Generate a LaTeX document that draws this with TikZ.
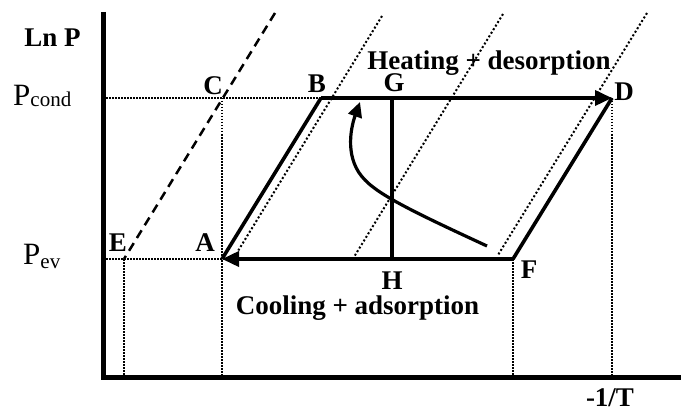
\documentclass[tikz,border=0pt]{standalone}
\usepackage{fontspec}
\setmainfont{Liberation Serif}
\usetikzlibrary{arrows.meta}
\begin{document}
\begin{tikzpicture}[x=1pt,y=-1pt,
  lbl/.style={font=\fontsize{27}{27}\selectfont\bfseries, inner sep=0pt, anchor=base},
  cyc/.style={line width=3.6pt, line join=miter},
  tipbig/.style={-{Triangle[length=17pt,width=15pt]}},
  tipsmall/.style={-{Triangle[length=15pt,width=14pt]}},
  guide/.style={line width=1.5pt, dash pattern=on 1.5pt off 1.5pt},
  iso/.style={line width=2pt, dash pattern=on 2pt off 2.2pt},
  sat/.style={line width=2.5pt, dash pattern=on 9pt off 6pt},
  axisline/.style={line width=5pt, line join=miter}]
\useasboundingbox (0,0) rectangle (681,412);

% key points
\coordinate (A) at (222,259);
\coordinate (B) at (321,98);
\coordinate (C) at (222,98);
\coordinate (D) at (612,98);
\coordinate (E) at (124,259);
\coordinate (F) at (513,259);
\coordinate (G) at (392,98);
\coordinate (H) at (392,259);

% axes
\coordinate (O) at (103,377);
\coordinate (Ytop) at (103,12);
\coordinate (Xend) at (681,377);
\coordinate (Ycond) at (106,98);
\coordinate (Yev) at (106,259);
\coordinate (xE) at (124,377);
\coordinate (xC) at (222,377);
\coordinate (xF) at (513,377);
\coordinate (xD) at (612,377);

% isostere ends
\coordinate (s1) at (275,13);
\coordinate (i1a) at (382,16);
\coordinate (i1b) at (238,251);
\coordinate (i2a) at (503,14);
\coordinate (i2b) at (354,257);
\coordinate (i3a) at (647,13);
\coordinate (i3b) at (498,255);

% curve ends
\coordinate (k0) at (487,246);
\coordinate (k1) at (360,102);

% guide lines
\draw[guide] (Ycond) -- (B);
\draw[guide] (Yev) -- (A);
\draw[guide] (C) -- (xC);
\draw[guide] (E) -- (xE);
\draw[guide] (F) -- (xF);
\draw[guide] (D) -- (xD);

% isosteres
\draw[iso] (i1a) -- (i1b);
\draw[iso] (i2a) -- (i2b);
\draw[iso] (i3a) -- (i3b);
\draw[sat] (s1) -- (E);

% axes
\draw[axisline] (Ytop) -- (O) -- (Xend);

% cycle
\draw[cyc] (A) -- (B);
\draw[cyc, tipbig] (B) -- (D);
\draw[cyc] (D) -- (F);
\draw[cyc, tipbig] (F) -- (A);
\draw[cyc] (G) -- (H);
\draw[cyc, line width=3.2pt, tipsmall] (k0) .. controls (420,215) and (380,196) .. (365,180) .. controls (345,160) and (350,130) .. (k1);

% labels
\node[lbl] (lnp) at (52.5,47) {Ln P};
\node[anchor=base west, inner sep=0pt, font=\fontsize{31}{31}\selectfont] (pcond) at (13,106) {P\raisebox{-1pt}{\fontsize{21}{21}\selectfont cond}};
\node[anchor=base west, inner sep=0pt, font=\fontsize{31}{31}\selectfont] (pev) at (23,264) {P\raisebox{-4pt}{\fontsize{21}{21}\selectfont ev}};
\node[lbl] (lC) at (213,95) {C};
\node[lbl] (lB) at (317,93) {B};
\node[lbl] (lG) at (394,92) {G};
\node[lbl] (lD) at (624,101) {D};
\node[lbl] (lE) at (118,251) {E};
\node[lbl] (lA) at (205,251) {A};
\node[lbl] (lH) at (392,289) {H};
\node[lbl] (lF) at (529,278) {F};
\node[lbl] (heat) at (489,70) {Heating + desorption};
\node[lbl] (cool) at (357.5,314) {Cooling + adsorption};
\node[lbl] (xlab) at (610,406) {-1/T};
\end{tikzpicture}
\end{document}
